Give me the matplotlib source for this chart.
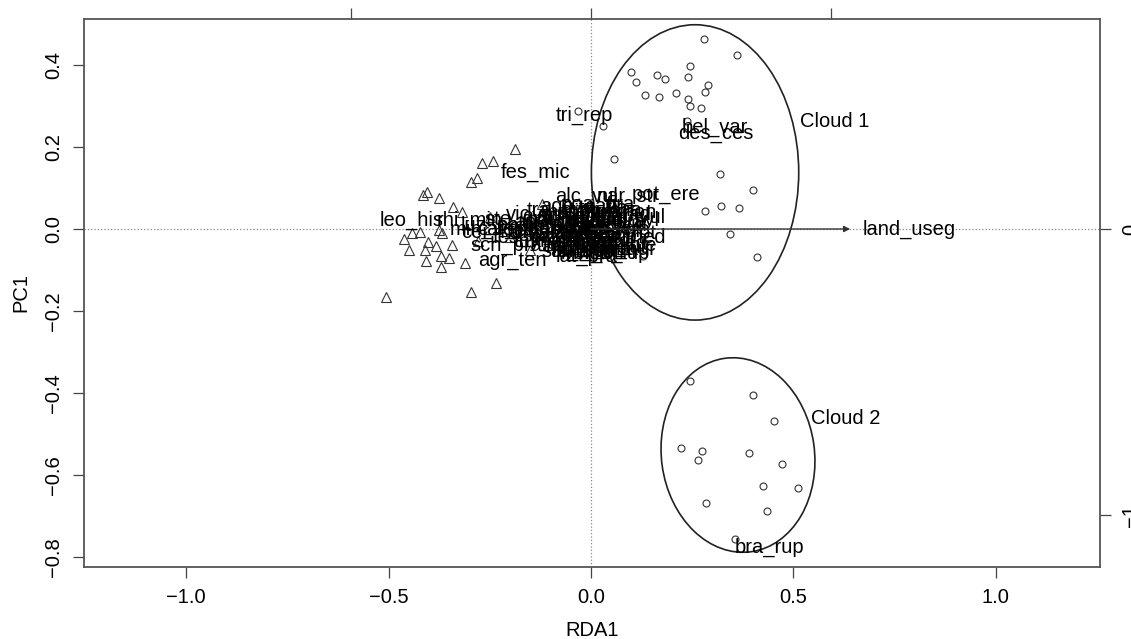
import matplotlib
matplotlib.use("Agg")
import matplotlib.pyplot as plt
from matplotlib.patches import Ellipse

plt.rcParams['font.family'] = ['Liberation Sans', 'DejaVu Sans']

# site scores, group in cloud 1 (circles)
cloud1_x = [0.279, 0.360, 0.244, 0.099, 0.163, 0.183, 0.240, 0.111, 0.289, 0.281,
            0.133, 0.168, 0.210, 0.240, 0.244, 0.272, -0.032, 0.030, 0.237, 0.057,
            0.319, 0.400, 0.281, 0.321, 0.365, 0.343, 0.128, 0.410, 0.133]
cloud1_y = [0.463, 0.424, 0.398, 0.383, 0.376, 0.366, 0.371, 0.359, 0.351, 0.334,
            0.327, 0.322, 0.332, 0.317, 0.300, 0.295, 0.288, 0.251, 0.263, 0.171,
            0.134, 0.095, 0.044, 0.056, 0.051, -0.012, -0.066, -0.068, -0.034]

# site scores, group in cloud 2 (circles)
cloud2_x = [0.244, 0.400, 0.452, 0.222, 0.274, 0.264, 0.390, 0.472, 0.425, 0.511,
            0.284, 0.435, 0.356]
cloud2_y = [-0.371, -0.405, -0.468, -0.534, -0.541, -0.563, -0.546, -0.573, -0.627, -0.632,
            -0.668, -0.688, -0.756]

# remaining sites (triangles)
tri_x = [-0.188, -0.269, -0.242, -0.296, -0.281, -0.415, -0.405, -0.375, -0.341, -0.319,
         -0.442, -0.422, -0.462, -0.375, -0.368, -0.402, -0.449, -0.410, -0.383, -0.343,
         -0.407, -0.370, -0.351, -0.370, -0.311, -0.235, -0.296, -0.506,
         -0.250, -0.200, -0.150, -0.280, -0.120]
tri_y = [0.195, 0.161, 0.166, 0.115, 0.124, 0.083, 0.090, 0.076, 0.054, 0.041,
         -0.010, -0.007, -0.024, -0.002, -0.010, -0.032, -0.051, -0.051, -0.041, -0.039,
         -0.078, -0.066, -0.071, -0.093, -0.083, -0.132, -0.154, -0.166,
         0.030, -0.020, -0.050, -0.030, 0.060]

# species scores (labels)
species = ["leo_his", "rhi_min", "agr_ten", "sch_pra", "fes_mic", "tri_rep", "bel_var",
           "des_ces", "bra_rup", "lat_pra", "alc_vul", "nar_str", "pot_ere", "poa_pra",
           "pru_vul", "pla_med", "luz_cam", "cer_hol", "phl_pra", "fes_pra", "ste_gra",
           "ant_odo", "ach_mil", "pla_lan", "ran_acr", "dac_glo", "tar_off", "bri_med",
           "hol_lan", "fes_rub", "tri_pra", "leu_vul", "cyn_cri", "ago_cap", "pim_maj",
           "kna_arv", "ver_cha", "gal_ver", "cam_rot", "thy_pul", "lot_cor", "hyp_rad",
           "tra_pra", "rum_ace", "cre_bie", "sal_pra", "ant_syl", "vic_cra", "med_lup",
           "sil_vul", "ger_syl", "ant_vul", "car_car", "hyp_mac", "cen_jac", "bro_ere",
           "koe_pyr", "arr_ela", "tri_fla", "her_sph", "cha_aur", "pol_viv", "ver_off",
           "mel_pra", "ran_bul", "sca_col", "tri_mon", "ran_pol", "gen_lut", "car_pal",
           "min_ver", "ele_ros"]
spec_x = [-0.444, -0.300, -0.193, -0.210, -0.136, -0.015, 0.306,
          0.309, 0.442, -0.012, -0.012, 0.091, 0.185, 0.017,
          0.104, 0.089, -0.230, -0.240, -0.150, -0.160, -0.180,
          -0.100, -0.050, -0.020, 0.010, 0.030, -0.070, 0.050,
          -0.040, -0.120, 0.000, 0.060, -0.090, -0.030, 0.020,
          -0.060, 0.040, -0.010, 0.070, -0.110, 0.030, 0.060,
          -0.080, -0.020, 0.080, -0.040, 0.090, -0.130, 0.050,
          -0.030, 0.010, 0.040, -0.070, -0.010, 0.020, 0.060,
          -0.050, 0.000, 0.030, -0.020, 0.070, -0.080, 0.010,
          0.045, -0.060, 0.025, 0.080, -0.015, 0.055, -0.200,
          -0.260, -0.100]
spec_y = [0.022, 0.022, -0.076, -0.039, 0.137, 0.276, 0.249,
          0.232, -0.776, -0.066, 0.080, 0.080, 0.085, 0.059,
          0.029, -0.020, 0.010, -0.008, 0.010, -0.020, 0.022,
          0.015, 0.030, 0.000, -0.020, 0.020, -0.010, -0.035,
          -0.040, -0.005, 0.040, 0.010, 0.030, 0.055, -0.050,
          -0.030, 0.045, -0.030, -0.010, -0.030, -0.015, 0.035,
          0.045, 0.020, -0.040, -0.055, 0.020, 0.035, -0.060,
          0.010, 0.005, -0.005, 0.000, -0.045, 0.030, 0.000,
          -0.020, -0.010, 0.050, 0.040, -0.050, 0.020, -0.060,
          0.015, 0.005, -0.030, 0.040, -0.055, -0.045, 0.000,
          0.000, -0.015]

# constraining variable (biplot arrow)
arrow_name = "land_useg"
arrow_x = 0.64
arrow_y = 0.0
arrow_label_x = 0.785

# cloud outlines: centre x, centre y, width, height, angle
cloud_names = ["Cloud 1", "Cloud 2"]
cloud_cx = [0.257, 0.363]
cloud_cy = [0.138, -0.551]
cloud_w = [0.512, 0.378]
cloud_h = [0.720, 0.476]
cloud_ang = [0, 8]
cloud_lab_x = [0.516, 0.543]
cloud_lab_y = [0.263, -0.461]

# scaling of the secondary (species) axes
top_scale = 0.593
right_scale = 0.698

fig = plt.figure(figsize=(11.31, 6.39), dpi=100)
ax = fig.add_subplot(111)
fig.subplots_adjust(left=84/1131, right=1100/1131, top=1-19/639, bottom=1-567/639)

ax.set_xlim(-1.252, 1.257)
ax.set_ylim(-0.824, 0.512)

ax.axhline(0, color='#888888', ls=':', lw=0.9, zorder=0)
ax.axvline(0, color='#888888', ls=':', lw=0.9, zorder=0)

ax.plot(tri_x, tri_y, ls='none', marker='^', ms=6.5, mfc='none', mec='#333333', mew=0.8)
ax.plot(cloud1_x, cloud1_y, ls='none', marker='o', ms=5, mfc='none', mec='#333333', mew=0.8)
ax.plot(cloud2_x, cloud2_y, ls='none', marker='o', ms=5, mfc='none', mec='#333333', mew=0.8)

for name, x, y in zip(species, spec_x, spec_y):
    ax.text(x, y, name, fontsize=14.5, ha='center', va='center', color='black')

ax.annotate("", xy=(arrow_x, arrow_y), xytext=(0, 0),
            arrowprops=dict(arrowstyle='-|>', color='#333333', lw=1.0,
                            mutation_scale=9, shrinkA=0, shrinkB=0))
ax.text(arrow_label_x, arrow_y, arrow_name, fontsize=14.5, ha='center', va='center')

for i in range(len(cloud_names)):
    e = Ellipse((cloud_cx[i], cloud_cy[i]), cloud_w[i], cloud_h[i], angle=cloud_ang[i],
                fill=False, ec='#222222', lw=1.2)
    ax.add_patch(e)
    ax.text(cloud_lab_x[i], cloud_lab_y[i], cloud_names[i], fontsize=14.5, ha='left', va='center')

ax.set_xticks([-1.0, -0.5, 0.0, 0.5, 1.0])
ax.set_xticklabels(["\u22121.0", "\u22120.5", "0.0", "0.5", "1.0"])
ax.set_yticks([-0.8, -0.6, -0.4, -0.2, 0.0, 0.2, 0.4])
ax.set_yticklabels(["\u22120.8", "\u22120.6", "\u22120.4", "\u22120.2", "0.0", "0.2", "0.4"],
                   rotation=90, va='center')
ax.tick_params(direction='out', length=8, width=0.9, color='#444444', labelsize=14.5, pad=7)
for s in ax.spines.values():
    s.set_color('#555555')
    s.set_linewidth(1.3)

top = ax.secondary_xaxis('top', functions=(lambda v: v / top_scale, lambda v: v * top_scale))
top.set_xticks([-1, 0, 1])
top.tick_params(direction='out', length=8, width=0.9, color='#444444', labeltop=False)
top.spines['top'].set_visible(False)

right = ax.secondary_yaxis('right', functions=(lambda v: v / right_scale, lambda v: v * right_scale))
right.set_yticks([-1, 0])
right.set_yticklabels(["\u22121", "0"], rotation=90, va='center')
right.tick_params(direction='out', length=8, width=0.9, color='#444444', labelsize=14.5, pad=7)
right.spines['right'].set_visible(False)

ax.set_xlabel("RDA1", fontsize=14.5, labelpad=10)
ax.set_ylabel("PC1", fontsize=14.5, labelpad=10)

fig.savefig("out.png", dpi=100)
